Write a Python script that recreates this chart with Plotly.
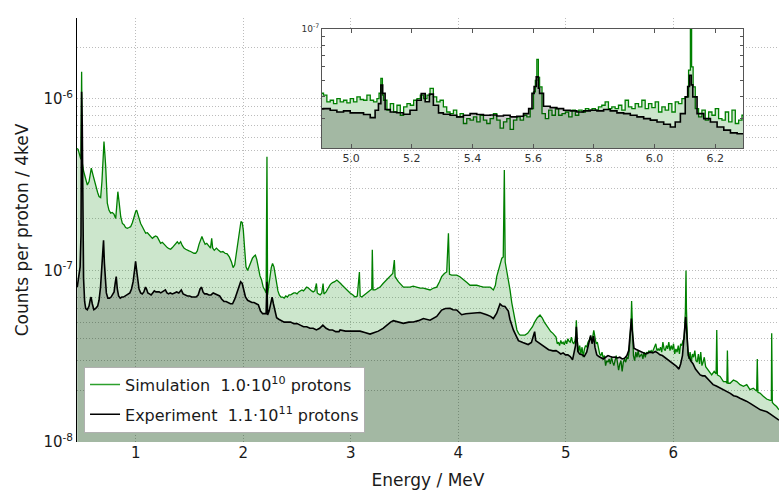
import plotly.graph_objects as go

# ---------------- data (counts per proton / 4 keV, in units of 1e-9) ----------------
sim_energy = [
    0.455, 0.465, 0.478, 0.489, 0.496, 0.503, 0.514, 0.534, 0.549, 0.565, 0.577, 0.586, 0.602, 0.627, 0.645,
    0.658, 0.673, 0.685, 0.695, 0.704, 0.712, 0.720, 0.735, 0.750, 0.766, 0.781, 0.797, 0.813, 0.822, 0.833,
    0.845, 0.860, 0.875, 0.890, 0.905, 0.921, 0.937, 0.952, 0.968, 0.983, 0.998, 1.008, 1.020, 1.030, 1.045,
    1.061, 1.076, 1.092, 1.108, 1.123, 1.138, 1.154, 1.170, 1.185, 1.200, 1.215, 1.231, 1.247, 1.262, 1.278,
    1.293, 1.309, 1.324, 1.340, 1.355, 1.371, 1.386, 1.401, 1.417, 1.432, 1.448, 1.464, 1.480, 1.495, 1.510,
    1.525, 1.541, 1.557, 1.572, 1.588, 1.603, 1.615, 1.628, 1.645, 1.660, 1.680, 1.695, 1.706, 1.715, 1.730,
    1.750, 1.770, 1.790, 1.810, 1.830, 1.850, 1.870, 1.890, 1.905, 1.920, 1.935, 1.950, 1.965, 1.978, 1.990,
    2.000, 2.012, 2.025, 2.040, 2.055, 2.070, 2.085, 2.100, 2.112, 2.125, 2.140, 2.155, 2.170, 2.185, 2.200,
    2.212, 2.220, 2.226, 2.235, 2.248, 2.260, 2.272, 2.285, 2.298, 2.310, 2.322, 2.335, 2.350, 2.365, 2.380,
    2.395, 2.410, 2.425, 2.440, 2.455, 2.470, 2.485, 2.500, 2.515, 2.530, 2.545, 2.560, 2.575, 2.590, 2.605,
    2.620, 2.635, 2.650, 2.665, 2.680, 2.688, 2.700, 2.715, 2.730, 2.742, 2.750, 2.770, 2.790, 2.810, 2.830,
    2.850, 2.870, 2.890, 2.905, 2.920, 2.946, 2.970, 2.993, 3.020, 3.039, 3.060, 3.080, 3.087, 3.101, 3.125,
    3.148, 3.175, 3.195, 3.200, 3.207, 3.225, 3.250, 3.272, 3.300, 3.334, 3.365, 3.390, 3.405, 3.412, 3.442,
    3.470, 3.489, 3.520, 3.551, 3.580, 3.613, 3.645, 3.675, 3.705, 3.737, 3.770, 3.799, 3.825, 3.845, 3.870,
    3.892, 3.908, 3.918, 3.938, 3.960, 3.985, 4.015, 4.047, 4.080, 4.109, 4.140, 4.171, 4.200, 4.233, 4.265,
    4.295, 4.326, 4.345, 4.357, 4.375, 4.388, 4.405, 4.418, 4.428, 4.436, 4.450, 4.465, 4.481, 4.497, 4.512,
    4.530, 4.545, 4.560, 4.575, 4.600, 4.620, 4.645, 4.670, 4.690, 4.710, 4.735, 4.760, 4.780, 4.800, 4.820,
    4.840, 4.860, 4.880, 4.895,
    4.909, 4.920, 4.931, 4.942, 4.953, 4.964, 4.975, 4.986, 4.997, 5.008, 5.019, 5.030, 5.041, 5.052, 5.063,
    5.074, 5.085, 5.092, 5.098, 5.103, 5.107, 5.118, 5.129, 5.140, 5.151, 5.162, 5.173, 5.184, 5.195, 5.206,
    5.217, 5.228, 5.239, 5.250, 5.260, 5.271, 5.282, 5.293, 5.304, 5.315, 5.326, 5.337, 5.348, 5.359, 5.370,
    5.381, 5.392, 5.403, 5.414, 5.425, 5.436, 5.447, 5.458, 5.469, 5.480, 5.491, 5.502, 5.513, 5.524, 5.535,
    5.546, 5.557, 5.568, 5.579, 5.590, 5.601, 5.607, 5.612, 5.617, 5.621, 5.629, 5.640, 5.651, 5.662, 5.673,
    5.684, 5.695, 5.706, 5.717, 5.728, 5.739, 5.750, 5.761, 5.772, 5.783, 5.794, 5.805, 5.815, 5.826, 5.837,
    5.848, 5.859, 5.870, 5.881, 5.892, 5.903, 5.914, 5.925, 5.936, 5.947, 5.958, 5.969, 5.980, 5.991, 6.002,
    6.013, 6.024, 6.035, 6.046, 6.057, 6.068, 6.079, 6.090, 6.101, 6.112, 6.118, 6.122, 6.127, 6.134, 6.145,
    6.156, 6.167, 6.178, 6.189, 6.200, 6.211, 6.222, 6.233, 6.244, 6.255, 6.266, 6.277, 6.288,
    6.301, 6.326, 6.357, 6.380, 6.398, 6.404, 6.410, 6.435, 6.466, 6.490, 6.498, 6.503, 6.509, 6.528, 6.559,
    6.590, 6.621, 6.652, 6.683, 6.713, 6.744, 6.775, 6.781, 6.787, 6.806, 6.837, 6.868, 6.900, 6.912, 6.915,
    6.921, 6.936, 6.961, 6.983,
]
sim_counts = [
    516, 505, 470, 445, 1440, 420, 380, 337, 315, 330, 380, 395, 360, 308, 285,
    270, 266, 330, 460, 564, 480, 403, 247, 225, 216, 218, 213, 201, 235, 288,
    250, 205, 188, 185, 178, 176, 178, 180, 190, 206, 220, 225, 212, 200, 188,
    180, 172, 165, 166, 162, 158, 154, 157, 159, 157, 150, 144, 146, 142, 140,
    136, 134, 133, 136, 140, 145, 147, 143, 147, 140, 135, 133, 131, 130, 129,
    127, 126, 126, 130, 142, 152, 158, 150, 142, 144, 138, 135, 154, 135, 131,
    135, 131, 128, 129, 126, 125, 120, 112, 104, 108, 126, 150, 178, 193, 190,
    172, 135, 105, 100, 106, 112, 118, 121, 123, 116, 104, 93, 88, 80, 77,
    74, 461, 72, 80, 95, 104, 110, 105, 94, 84, 76, 72, 70, 70, 69,
    71, 70, 72, 72, 73, 74, 74, 73, 75, 76, 77, 76, 78, 80, 79,
    77, 76, 75, 76, 84, 74, 73, 72, 74, 84, 73, 75, 79, 83, 85,
    86, 88, 86, 84, 82, 79, 76, 74, 72, 70, 71, 98, 71, 70, 72,
    74, 76, 78, 132, 77, 77, 79, 80, 84, 88, 92, 96, 115, 92, 86,
    82, 80, 80, 80, 81, 80, 79, 79, 78, 77, 79, 80, 86, 92, 96,
    98, 165, 95, 94, 94, 94, 92, 88, 85, 82, 82, 82, 81, 80, 80,
    80, 77, 82, 92, 102, 110, 118, 120, 385, 112, 101, 88, 77, 65, 58,
    50, 45, 43, 42, 42, 42, 43, 45, 47, 50, 53, 55, 53, 50, 48,
    46, 44, 43, 42,
    40.9, 37.4, 38.2, 36.5, 39.1, 37.4, 38.2, 36.9, 39.1, 37.4, 40.0, 38.6, 38.2, 40.9, 38.2,
    37.4, 39.1, 42.0, 51.3, 41.0, 38.2, 33.4, 36.5, 32.6, 35.7, 31.2, 34.9, 36.5, 35.7, 38.2,
    39.1, 40.9, 39.1, 40.9, 44.8, 40.0, 37.4, 38.2, 34.9, 32.6, 31.9, 33.4, 30.5, 31.9, 27.9,
    29.8, 29.2, 30.5, 28.5, 31.2, 29.2, 27.9, 29.8, 31.9, 29.2, 26.2, 28.5, 29.8, 25.8, 29.2,
    30.5, 29.2, 31.2, 30.5, 34.1, 42.8, 50.0, 66.3, 52.0, 45.8, 31.9, 29.8, 33.4, 31.2, 34.1,
    31.2, 31.9, 32.6, 30.5, 33.4, 31.2, 33.4, 32.6, 34.1, 33.4, 34.1, 33.4, 34.9, 35.7, 37.4,
    34.1, 34.9, 34.1, 35.7, 33.4, 38.2, 34.9, 34.1, 36.5, 34.9, 38.2, 34.1, 36.5, 34.6, 37.4,
    32.6, 34.9, 33.4, 36.5, 32.6, 37.4, 36.5, 39.1, 40.0, 57.4, 100.0, 60.0, 45.8, 34.1, 30.5,
    33.4, 29.2, 32.6, 31.2, 34.1, 29.8, 29.2, 32.6, 28.5, 33.4, 27.9, 29.2, 31.2,
    27.5, 26.3, 24.6, 25.8, 25.0, 45.0, 24.6, 24.1, 22.5, 22.5, 22.0, 34.1, 22.0, 22.0, 23.0,
    22.5, 21.6, 21.1, 21.6, 20.2, 20.6, 19.8, 30.5, 19.5, 19.3, 18.5, 17.8, 17.5, 17.5, 43.0,
    17.0, 16.6, 16.1, 15.4,
]

exp_energy = [
    0.455, 0.470, 0.482, 0.490, 0.496, 0.502, 0.507, 0.514, 0.524, 0.534, 0.549, 0.565, 0.577, 0.584, 0.595,
    0.610, 0.627, 0.645, 0.658, 0.672, 0.684, 0.692, 0.700, 0.708, 0.716, 0.726, 0.740, 0.755, 0.770, 0.785,
    0.798, 0.808, 0.818, 0.828, 0.840, 0.855, 0.870, 0.885, 0.900, 0.915, 0.930, 0.945, 0.960, 0.975, 0.988,
    0.998, 1.008, 1.018, 1.030, 1.045, 1.060, 1.075, 1.090, 1.100, 1.112, 1.127, 1.142, 1.157, 1.172, 1.187,
    1.202, 1.217, 1.232, 1.247, 1.262, 1.275, 1.290, 1.305, 1.320, 1.340, 1.360, 1.380, 1.400, 1.423, 1.440,
    1.460, 1.480, 1.500, 1.520, 1.540, 1.560, 1.580, 1.598, 1.612, 1.625, 1.640, 1.660, 1.680, 1.700, 1.720,
    1.740, 1.760, 1.780, 1.800, 1.820, 1.840, 1.860, 1.880, 1.900, 1.920, 1.940, 1.960, 1.975, 1.990, 2.005,
    2.020, 2.040, 2.060, 2.080, 2.100, 2.120, 2.140, 2.160, 2.180, 2.200, 2.212, 2.220, 2.226, 2.240, 2.255,
    2.268, 2.280, 2.295, 2.310, 2.330, 2.350, 2.380, 2.410, 2.440, 2.470, 2.500, 2.530, 2.560, 2.590, 2.620,
    2.650, 2.680, 2.710, 2.740, 2.770, 2.800, 2.830, 2.860, 2.890, 2.900, 2.950, 2.993, 3.040, 3.086, 3.130,
    3.179, 3.220, 3.256, 3.300, 3.334, 3.370, 3.396, 3.440, 3.489, 3.540, 3.582, 3.630, 3.675, 3.737, 3.770,
    3.799, 3.845, 3.880, 3.923, 3.950, 3.985, 4.031, 4.070, 4.109, 4.150, 4.202, 4.264, 4.300, 4.326, 4.357,
    4.388, 4.410, 4.434, 4.450, 4.465, 4.480, 4.496, 4.512, 4.527, 4.559, 4.600, 4.650, 4.680, 4.700, 4.710,
    4.720, 4.770, 4.840, 4.880,
    4.909, 4.931, 4.953, 4.975, 4.997, 5.019, 5.041, 5.063, 5.079, 5.090, 5.098, 5.104, 5.112, 5.129, 5.150,
    5.172, 5.194, 5.216, 5.231, 5.244, 5.258, 5.271, 5.288, 5.304, 5.326, 5.348, 5.370, 5.392, 5.414, 5.436,
    5.458, 5.480, 5.502, 5.524, 5.546, 5.568, 5.585, 5.596, 5.603, 5.610, 5.617, 5.621, 5.634, 5.656, 5.678,
    5.700, 5.722, 5.744, 5.766, 5.788, 5.810, 5.832, 5.854, 5.876, 5.898, 5.920, 5.942, 5.964, 5.986, 6.008,
    6.030, 6.052, 6.068, 6.085, 6.101, 6.109, 6.115, 6.121, 6.126, 6.140, 6.162, 6.184, 6.206, 6.228, 6.250,
    6.272, 6.294,
    6.330, 6.370, 6.400, 6.440, 6.470, 6.500, 6.530, 6.560, 6.590, 6.620, 6.650, 6.680, 6.715, 6.750, 6.780,
    6.810, 6.840, 6.870, 6.900, 6.930, 6.955, 6.983,
]
exp_counts = [
    80, 92, 105, 160, 1100, 700, 180, 90, 66, 60, 59, 62, 68, 70, 64,
    59, 60, 62, 67, 80, 105, 135, 150, 110, 85, 74, 69, 69, 70, 72,
    75, 84, 92, 78, 71, 69, 70, 70, 71, 72, 73, 74, 78, 86, 100,
    113, 100, 86, 78, 74, 73, 75, 80, 78, 74, 73, 72, 74, 76, 75,
    75, 75, 74, 75, 76, 77, 74, 73, 74, 73, 74, 75, 74, 77, 73,
    72, 71, 71, 70, 70, 70, 72, 78, 80, 75, 73, 73, 72, 72, 74,
    73, 72, 71, 68, 66, 66, 65, 64, 64, 68, 74, 80, 86, 84, 78,
    70, 67, 66, 65, 65, 64, 63, 58, 56, 56, 56, 86, 55, 58, 64,
    70, 64, 58, 53, 52, 51, 50, 50, 50, 49, 49, 48, 47, 47, 46,
    46, 45, 46, 48, 46, 45, 45, 44, 44, 45, 44.3, 44.3, 44.0, 44.3, 43.5,
    42.6, 43.5, 44.3, 46, 48, 50, 51, 50, 49.2, 50, 50.1, 51, 52.5, 51.3, 52.5,
    54, 58.8, 60, 60.2, 59, 58.8, 55.2, 56, 56.3, 56.5, 56.9, 55.2, 54, 52.5, 56.3,
    63.8, 62, 61.6, 60, 58, 52, 48, 45, 43, 39, 38, 37, 38, 42, 44,
    39, 37, 34.5, 34,
    34.1, 33.4, 32.6, 33.1, 32.2, 32.2, 31.5, 30.2, 33.4, 36.5, 46.9, 41.9, 33.7, 32.6, 32.3,
    31.6, 33.4, 38.2, 41.8, 37.4, 41.5, 35.7, 32.2, 31.6, 31.2, 30.5, 31.2, 31.9, 31.5, 31.2,
    31.3, 30.9, 31.2, 30.5, 30.8, 31.9, 34.1, 41.9, 46.0, 52.4, 45.0, 41.9, 35.2, 34.6, 34.1,
    33.4, 33.1, 32.6, 33.1, 33.4, 33.1, 33.7, 33.1, 32.2, 31.9, 31.2, 30.5, 29.8, 29.2, 28.5,
    27.6, 26.6, 28.5, 31.9, 40.0, 46.0, 53.6, 47.0, 40.0, 31.9, 29.8, 28.5, 26.6, 25.5, 24.6,
    24.3, 24.3,
    23.0, 21.6, 21.2, 20.6, 20.2, 19.7, 19.2, 18.6, 18.4, 18.0, 17.7, 17.3, 16.8, 16.3, 15.9,
    15.4, 15.2, 15.0, 14.6, 14.1, 13.8, 13.4,
]
COUNT_UNIT = 1e-9

energy_ticks = [1, 2, 3, 4, 5, 6, 7]
count_decades = [1e-8, 1e-7, 1e-6]
count_decade_labels = ["10<sup>-8</sup>", "10<sup>-7</sup>", "10<sup>-6</sup>"]
inset_energy_ticks = [5.0, 5.2, 5.4, 5.6, 5.8, 6.0, 6.2]
legend_labels = [
    "Simulation\u00a0\u00a01.0\u00b710<sup>10</sup> protons",
    "Experiment\u00a0\u00a01.1\u00b710<sup>11</sup> protons",
]
axis_titles = ["Energy / MeV", "Counts per proton / 4keV"]

# ---------------- figure ----------------
sim_y = [v * COUNT_UNIT for v in sim_counts]
exp_y = [v * COUNT_UNIT for v in exp_counts]

GREEN = "#008000"
FONT = "DejaVu Sans"

fig = go.Figure()
for xa, ya, shape in (("x", "y", "linear"), ("x2", "y2", "hv")):
    fig.add_trace(go.Scatter(
        x=sim_energy, y=sim_y, mode="lines", xaxis=xa, yaxis=ya,
        line=dict(color=GREEN, width=1.3, shape=shape),
        fill="tozeroy", fillcolor="rgba(0,128,0,0.2)",
        showlegend=False, hoverinfo="skip"))
    fig.add_trace(go.Scatter(
        x=exp_energy, y=exp_y, mode="lines", xaxis=xa, yaxis=ya,
        line=dict(color="#000000", width=1.6, shape=shape),
        fill="tozeroy", fillcolor="rgba(0,0,0,0.2)",
        showlegend=False, hoverinfo="skip"))

# legend entries (lines only)
fig.add_trace(go.Scatter(x=[None], y=[None], mode="lines", name=legend_labels[0],
                         legendgroup="sim", line=dict(color="#2ca02c", width=1.5)))
fig.add_trace(go.Scatter(x=[None], y=[None], mode="lines", name=legend_labels[1],
                         legendgroup="exp", line=dict(color="#000000", width=1.5)))

# y tick values: decades plus minor lines
y_tickvals, y_ticktext = [], []
for d, lab in zip(count_decades, count_decade_labels):
    for m in range(1, 10):
        y_tickvals.append(m * d)
        y_ticktext.append(lab if m == 1 else "")

inset_y_tickvals = [m * 1e-8 for m in range(2, 11)]
inset_y_ticktext = [""] * 8 + ["10<sup>-7</sup>"]

grid = dict(showgrid=True, gridcolor="#bcbcbc", griddash="1px,2px", gridwidth=1)

fig.update_layout(
    width=779, height=490,
    margin=dict(l=77, r=0, t=18, b=48, autoexpand=False),
    paper_bgcolor="white", plot_bgcolor="white",
    font=dict(family=FONT, color="#1a1a1a"),
    xaxis=dict(domain=[0, 1], range=[0.453, 6.983], tickvals=energy_ticks,
               tickfont=dict(size=15), ticks="", zeroline=False, showline=False,
               automargin=False,
               title=dict(text=axis_titles[0], font=dict(size=17), standoff=14), **grid),
    yaxis=dict(type="log", range=[-8, -5.528], tickvals=y_tickvals, ticktext=y_ticktext,
               tickfont=dict(size=15), ticks="", zeroline=False, automargin=False,
               showline=True, linecolor="#000000", linewidth=1,
               title=dict(text=axis_titles[1], font=dict(size=17), standoff=10), **grid),
    xaxis2=dict(domain=[0.349, 0.949], anchor="y2", range=[4.904, 6.292],
                tickvals=inset_energy_ticks, ticktext=[f"{v:.1f}" for v in inset_energy_ticks],
                tickfont=dict(size=11, color="#333333"), ticks="inside", ticklen=4,
                tickcolor="#555555", showgrid=False, zeroline=False, automargin=False,
                showline=True, linecolor="#555555", linewidth=1, mirror="ticks"),
    yaxis2=dict(domain=[0.693, 0.974], anchor="x2", type="log", range=[-7.699, -7.0],
                tickvals=inset_y_tickvals, ticktext=inset_y_ticktext,
                tickfont=dict(size=9, color="#333333"), ticks="inside", ticklen=3,
                tickcolor="#555555", showgrid=False, zeroline=False, automargin=False,
                showline=True, linecolor="#555555", linewidth=1, mirror="ticks"),
    legend=dict(x=0.01, y=0.022, xanchor="left", yanchor="bottom",
                bgcolor="white", bordercolor="#b0b0b0", borderwidth=1,
                font=dict(size=16, family=FONT, color="#1a1a1a"),
                itemwidth=30, tracegroupgap=6),
    showlegend=True,
)

fig.write_html("out.html", config={"displayModeBar": False})

# remove the browser's default page margin so the figure sits at the window origin
with open("out.html", "r", encoding="utf-8") as fh:
    page = fh.read()
page = page.replace("<head>", "<head><style>html,body{margin:0;padding:0;overflow:hidden;}</style>", 1)
with open("out.html", "w", encoding="utf-8") as fh:
    fh.write(page)
